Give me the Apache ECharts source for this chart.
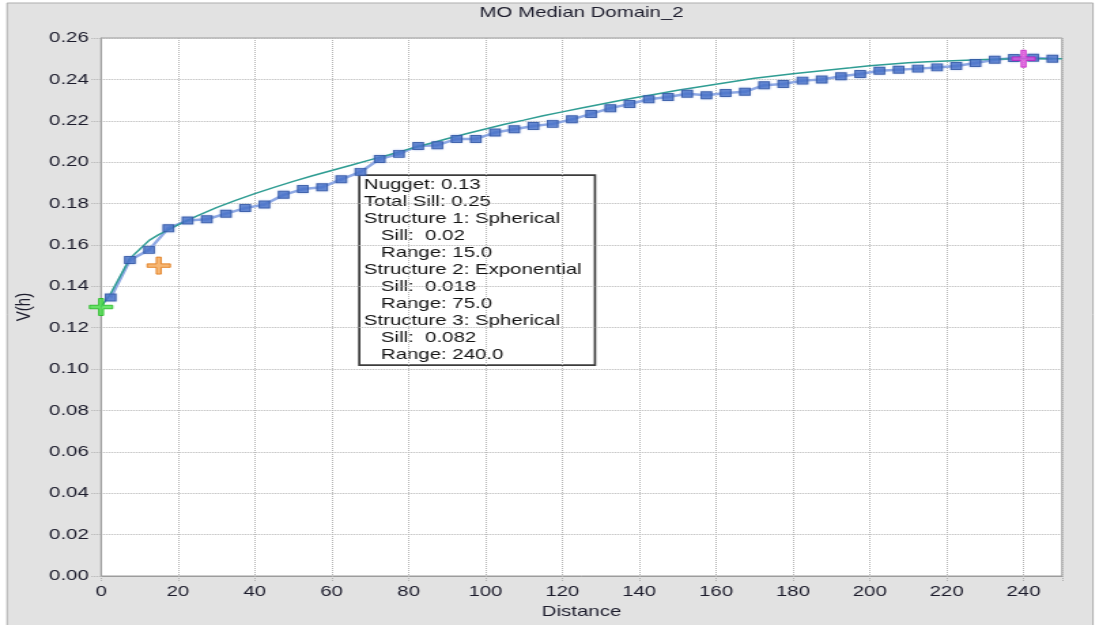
<!DOCTYPE html>
<html>
<head>
<meta charset="utf-8">
<title>MO Median Domain_2</title>
<script src="https://cdn.jsdelivr.net/npm/echarts@6/dist/echarts.min.js"></script>
<style>
  html, body { margin: 0; padding: 0; background: #ffffff; overflow: hidden; }
  /* the chart is laid out on a narrower canvas and widened to the page */
  #chart {
    position: absolute; left: 0; top: 0;
    width: 808px; height: 625px;
    transform: scaleX(1.3601);
    transform-origin: 0 0;
  }
</style>
</head>
<body>
<div id="chart"></div>
<script>
// Experimental semivariogram: lag distance and semivariance
const lags = [
  2.5, 7.5, 12.5, 17.5, 22.5, 27.5, 32.5, 37.5, 42.5, 47.5,
  52.5, 57.5, 62.5, 67.5, 72.5, 77.5, 82.5, 87.5, 92.5, 97.5,
  102.5, 107.5, 112.5, 117.5, 122.5, 127.5, 132.5, 137.5, 142.5, 147.5,
  152.5, 157.5, 162.5, 167.5, 172.5, 177.5, 182.5, 187.5, 192.5, 197.5,
  202.5, 207.5, 212.5, 217.5, 222.5, 227.5, 232.5, 237.5, 242.5, 247.5
];
const semivariance = [
  0.1346, 0.1527, 0.1576, 0.1681, 0.1718, 0.1724, 0.1751, 0.1778, 0.1795, 0.1842,
  0.1870, 0.1879, 0.1917, 0.1953, 0.2015, 0.2040, 0.2078, 0.2082, 0.2112, 0.2112,
  0.2143, 0.2159, 0.2175, 0.2185, 0.2207, 0.2233, 0.2261, 0.2281, 0.2304, 0.2315,
  0.2331, 0.2323, 0.2334, 0.2340, 0.2372, 0.2378, 0.2394, 0.2399, 0.2415, 0.2426,
  0.2442, 0.2447, 0.2452, 0.2458, 0.2465, 0.2479, 0.2495, 0.2503, 0.2505, 0.2500
];

// Fitted model curve
const modelLags = [
  0, 2.5, 5, 7.5, 10, 12.5, 15, 17.5, 20, 25, 30, 35, 40, 45, 50,
  55, 60, 65, 70, 75, 80, 85, 90, 95, 100, 105, 110, 115, 120, 125,
  130, 135, 140, 145, 150, 155, 160, 165, 170, 175, 180, 185, 190, 195, 200,
  205, 210, 215, 220, 225, 230, 235, 240, 245, 250
];
const modelValues = [
  0.1300, 0.1365, 0.1450, 0.1535, 0.1578, 0.1622, 0.1650, 0.1673, 0.1697, 0.1740, 0.1780, 0.1815, 0.1848, 0.1878, 0.1907,
  0.1934, 0.1960, 0.1985, 0.2011, 0.2036, 0.2063, 0.2088, 0.2113, 0.2137, 0.2160, 0.2183, 0.2203, 0.2224, 0.2243, 0.2262,
  0.2280, 0.2298, 0.2315, 0.2331, 0.2347, 0.2362, 0.2377, 0.2391, 0.2405, 0.2416, 0.2427, 0.2437, 0.2447, 0.2456, 0.2466,
  0.2473, 0.2480, 0.2485, 0.2489, 0.2493, 0.2496, 0.2498, 0.2500, 0.2500, 0.2500
];

// Model parameters
const nugget = 0.13;
const totalSill = 0.25;
const structureTypes = ['Spherical', 'Exponential', 'Spherical'];
const structureSills = [0.02, 0.018, 0.082];
const structureRanges = [15.0, 75.0, 240.0];

// Axis ranges and ticks
const xMin = 0, xMax = 250, xStep = 20;
const yMin = 0, yMax = 0.26, yStep = 0.02;

// Parameter handles: nugget, first structure, final sill
const nuggetMark = [[0, nugget]];
const firstStructureMark = [[structureRanges[0], nugget + structureSills[0]]];
const sillMark = [[structureRanges[2], totalSill]];

const experimental = lags.map((h, i) => [h, semivariance[i]]);
const model = modelLags.map((h, i) => [h, modelValues[i]]);

const infoLines = [
  'Nugget: ' + nugget.toFixed(2),
  'Total Sill: ' + totalSill.toFixed(2)
];
structureTypes.forEach((t, i) => {
  infoLines.push('Structure ' + (i + 1) + ': ' + t);
  infoLines.push('   Sill:  ' + String(structureSills[i]));
  infoLines.push('   Range: ' + structureRanges[i].toFixed(1));
});

const FONT = '"Liberation Sans", Arial, sans-serif';
const TEXT = '#1c1c2c';
const plusPath = 'path://M6.75,0 H10.25 V6.75 H17 V10.25 H10.25 V17 H6.75 V10.25 H0 V6.75 H6.75 Z';

function plusSeries(name, data, fill, stroke) {
  return {
    name: name,
    type: 'scatter',
    data: data,
    symbol: plusPath,
    symbolSize: [17, 17],
    z: 6,
    itemStyle: { color: fill, borderColor: stroke, borderWidth: 1 },
    silent: true
  };
}

const chart = echarts.init(document.getElementById('chart'), null, { renderer: 'canvas' });

chart.setOption({
  animation: false,
  backgroundColor: 'transparent',
  title: {
    text: 'MO Median Domain_2',
    left: 427.6,
    top: 5,
    padding: 0,
    textAlign: 'center',
    textStyle: { fontFamily: FONT, fontSize: 15, fontWeight: 'normal', color: TEXT }
  },
  graphic: [
    {
      type: 'rect',
      z: -10,
      silent: true,
      shape: { x: 5.2, y: 3, width: 798.4, height: 640 },
      style: { fill: '#e2e2e2', stroke: '#adadad', lineWidth: 1 }
    },
    {
      type: 'group',
      left: 263.3,
      top: 174.3,
      z: 100,
      children: [
        {
          type: 'rect',
          shape: { x: 0, y: 0, width: 173.3, height: 190 },
          style: { fill: '#ffffff', stroke: '#3c3c3c', lineWidth: 1.7 }
        },
        {
          type: 'text',
          x: 3.4,
          y: 1.3,
          style: {
            text: infoLines.join('\n'),
            font: '15px ' + FONT,
            lineHeight: 17,
            fill: '#141414'
          }
        }
      ]
    }
  ],
  grid: {
    left: 74.3,
    right: 27.2,
    top: 38,
    bottom: 49,
    show: true,
    backgroundColor: '#ffffff',
    borderColor: '#9c9c9c',
    borderWidth: 1
  },
  xAxis: {
    type: 'value',
    min: xMin,
    max: xMax,
    interval: xStep,
    name: 'Distance',
    nameLocation: 'middle',
    nameGap: 27,
    nameTextStyle: { fontFamily: FONT, fontSize: 15, color: TEXT },
    axisLine: { show: true, onZero: false, lineStyle: { color: '#9c9c9c', width: 1 } },
    axisTick: { show: true, inside: false, length: 5, lineStyle: { color: '#b0b0b0', type: 'dotted' } },
    axisLabel: {
      fontFamily: FONT, fontSize: 15, color: TEXT, margin: 8,
      formatter: v => (v % xStep === 0 ? String(v) : '')
    },
    splitLine: { show: true, lineStyle: { color: '#b4b4b4', type: 'dotted', width: 1 } }
  },
  yAxis: {
    type: 'value',
    min: yMin,
    max: yMax,
    interval: yStep,
    name: 'V(h)',
    nameLocation: 'middle',
    nameRotate: 90,
    nameGap: 46,
    nameTextStyle: { fontFamily: FONT, fontSize: 15, color: TEXT },
    axisLine: { show: true, onZero: false, lineStyle: { color: '#9c9c9c', width: 1 } },
    axisTick: { show: true, inside: false, length: 7, lineStyle: { color: '#b0b0b0', type: 'dotted' } },
    axisLabel: {
      fontFamily: FONT, fontSize: 15, color: TEXT, margin: 9,
      formatter: v => v.toFixed(2)
    },
    splitLine: { show: true, lineStyle: { color: '#b4b4b4', type: 'dotted', width: 1 } }
  },
  series: [
    {
      name: 'Experimental line',
      type: 'line',
      data: experimental,
      showSymbol: false,
      symbol: 'none',
      z: 2,
      silent: true,
      lineStyle: { color: '#8fa9e4', width: 2.5 }
    },
    {
      name: 'Model',
      type: 'line',
      data: model,
      showSymbol: false,
      symbol: 'none',
      z: 3,
      silent: true,
      lineStyle: { color: '#2f9d93', width: 1.5 }
    },
    {
      name: 'Experimental',
      type: 'scatter',
      data: experimental,
      symbol: 'rect',
      symbolSize: [7.6, 7],
      z: 4,
      silent: true,
      itemStyle: {
        color: '#4670c8',
        borderColor: '#2d52a0',
        borderWidth: 1,
        shadowColor: 'rgba(120,150,220,0.55)',
        shadowBlur: 2
      }
    },
    plusSeries('Nugget', nuggetMark, '#48e048', '#1fb81f'),
    plusSeries('Structure 1', firstStructureMark, '#f4a450', '#e07512'),
    plusSeries('Sill', sillMark, '#e055e0', '#c01cc0')
  ]
});
</script>
</body>
</html>
